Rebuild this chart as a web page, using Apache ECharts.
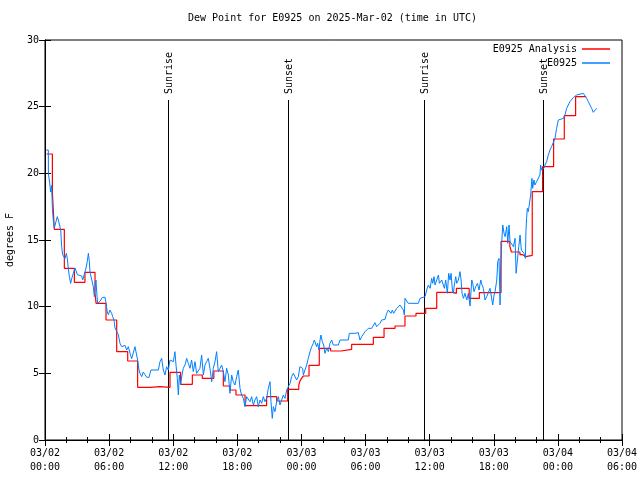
<!DOCTYPE html>
<html>
<head>
<meta charset="utf-8">
<script src="https://cdn.jsdelivr.net/npm/echarts@6/dist/echarts.min.js"></script>
<style>
html,body{margin:0;padding:0;background:#fff;}
#chart{width:640px;height:480px;}
</style>
</head>
<body>
<div id="chart"></div>
<script>
// ---- Data (hours since 2025-03-02 00:00 UTC, dew point in degrees F) ----
const titleText = 'Dew Point for E0925 on 2025-Mar-02 (time in UTC)';
const yAxisName = 'degrees F';
const seriesNames = ['E0925 Analysis', 'E0925'];
const xTickLabels = ['03/02\n00:00','03/02\n06:00','03/02\n12:00','03/02\n18:00','03/03\n00:00','03/03\n06:00','03/03\n12:00','03/03\n18:00','03/04\n00:00','03/04\n06:00'];

// Analysis (step) values: [hour, value]
const analysisPoints = [
 [0.15,21.45],[0.69,18.6],[0.87,15.8],[1.81,12.875],[2.75,11.825],[3.74,12.575],[4.68,11.0],[4.78,10.25],
 [5.71,9.0],[6.71,6.625],[7.74,5.925],[8.67,3.95],[9.83,4.0],[10.76,3.95],[11.7,5.075],[12.69,4.175],
 [13.79,4.875],[14.72,4.625],[15.8,5.175],[16.69,4.05],[17.31,3.75],[17.87,3.375],[18.72,2.575],[20.74,3.25],
 [21.68,2.925],[22.71,3.8],[23.75,4.1],[23.85,4.4],[24.0,4.62],[24.18,4.8],[24.71,5.6],[25.67,6.875],
 [26.73,6.675],[27.7,6.8],[28.7,7.175],[30.73,7.7],[31.73,8.375],[32.76,8.55],[33.69,9.3],[34.72,9.5],
 [35.63,9.875],[36.66,11.07],[38.2,11.0],[38.5,11.37],[39.7,10.62],[40.65,11.05],[42.68,14.9],[43.5,14.55],
 [43.65,14.1],[44.45,13.9],[44.7,13.75],[45.0,13.85],[45.6,18.625],[46.57,20.5],[47.6,22.575],[48.6,24.325],
 [49.66,25.75],[50.65,25.75]
];

// Observations: [hour, value]
const obsPoints = [
 [0.1,21.75],[0.31,21.75],[0.32,20.0],[0.44,19.25],[0.53,18.6],[0.62,19.1],[0.69,17.4],[0.78,16.4],
 [0.87,15.9],[1.03,15.75],[1.15,16.75],[1.25,16.5],[1.4,16.4],[1.47,15.75],[1.56,14.5],[1.65,13.9],
 [1.78,14.0],[1.87,13.6],[2.0,14.0],[2.09,13.6],[2.18,12.9],[2.28,12.25],[2.4,11.75],[2.5,12.1],
 [2.65,12.5],[2.81,12.9],[2.9,12.75],[3.03,12.4],[3.43,12.3],[3.53,12.0],[3.68,12.1],[3.74,12.6],
 [3.84,12.9],[3.96,13.4],[4.06,14.0],[4.15,13.4],[4.21,12.6],[4.37,12.5],[4.52,11.5],[4.62,10.75],
 [4.68,11.5],[4.77,12.0],[4.87,10.75],[4.93,10.25],[5.15,10.4],[5.37,10.7],[5.62,10.7],[5.71,10.25],
 [5.83,9.6],[5.93,9.4],[6.08,9.75],[6.24,9.5],[6.33,9.25],[6.46,9.0],[6.55,8.4],[6.71,8.25],
 [6.86,7.9],[7.02,7.25],[7.18,7.0],[7.33,6.9],[7.49,7.1],[7.64,6.75],[7.8,7.0],[7.96,6.5],
 [8.11,6.1],[8.27,6.25],[8.42,7.0],[8.58,6.9],[8.67,6.0],[8.8,5.25],[8.89,5.0],[9.05,4.75],
 [9.2,5.1],[9.36,4.9],[9.52,4.7],[9.73,4.7],[9.92,5.25],[10.61,5.25],[10.76,5.875],[10.92,6.125],
 [11.07,5.25],[11.23,4.875],[11.38,5.5],[11.54,5.25],[11.7,6.0],[11.85,6.075],[12.01,5.875],[12.16,6.625],
 [12.26,5.625],[12.38,4.625],[12.48,3.375],[12.57,4.875],[12.69,4.125],[12.82,4.875],[12.94,5.375],[13.1,5.625],
 [13.26,6.125],[13.41,5.75],[13.57,5.375],[13.72,6.0],[13.88,5.125],[14.04,5.875],[14.19,5.0],[14.35,5.125],
 [14.5,5.375],[14.66,6.375],[14.82,4.875],[14.97,5.625],[15.13,5.875],[15.28,6.125],[15.44,5.375],[15.6,4.375],
 [15.75,5.375],[15.91,5.875],[16.06,6.625],[16.22,5.125],[16.38,5.375],[16.53,5.625],[16.69,5.125],[16.84,4.375],
 [17.0,5.375],[17.16,4.875],[17.31,3.5],[17.47,4.875],[17.62,4.375],[17.78,4.125],[17.94,4.75],[18.09,5.25],
 [18.25,3.875],[18.4,3.375],[18.56,3.125],[18.72,2.5],[18.87,3.25],[19.03,3.25],[19.18,2.875],[19.34,3.25],
 [19.5,2.625],[19.65,3.0],[19.81,3.25],[19.96,2.5],[20.12,3.0],[20.28,2.75],[20.43,3.25],[20.59,2.875],
 [20.74,3.125],[20.9,3.875],[21.06,4.375],[21.15,2.875],[21.27,1.625],[21.37,2.5],[21.52,2.125],[21.68,2.875],
 [21.84,3.25],[21.99,2.625],[22.15,3.0],[22.3,3.375],[22.46,3.125],[22.62,3.75],[22.77,3.875],[22.93,4.25],
 [23.08,4.75],[23.24,5.0],[23.4,5.0],[23.55,4.5],[23.71,4.75],[23.86,5.5],[24.02,5.625],[24.11,5.375],
 [24.18,4.875],[24.33,5.25],[24.49,5.625],[24.64,6.125],[24.8,6.625],[24.96,7.0],[25.11,7.25],[25.21,7.5],
 [25.33,7.375],[25.42,7.0],[25.52,7.25],[25.64,6.75],[25.74,7.5],[25.83,7.875],[25.95,7.375],[26.08,7.125],
 [26.2,6.5],[26.36,6.875],[26.52,6.625],[26.67,7.25],[26.83,7.5],[26.98,7.125],[27.14,7.125],[27.45,7.125],
 [27.61,7.5],[28.39,7.5],[28.48,8.0],[29.01,8.0],[29.17,7.875],[29.32,8.05],[29.48,7.5],[29.64,7.75],
 [29.79,7.875],[29.95,8.125],[30.1,8.05],[30.26,8.375],[30.57,8.375],[30.73,8.5],[30.88,8.8],[31.04,8.5],
 [31.2,8.375],[31.35,8.75],[31.51,9.0],[31.82,9.05],[31.98,9.5],[32.13,9.75],[32.29,9.875],[32.38,9.5],
 [32.51,9.75],[32.63,9.5],[32.76,9.625],[32.91,9.875],[33.07,9.75],[33.22,10.125],[33.38,10.25],[33.54,9.75],
 [33.63,9.375],[33.69,10.625],[33.85,10.625],[34.0,10.25],[34.94,10.25],[35.1,10.625],[35.57,10.75],[35.72,11.25],
 [35.88,11.625],[36.04,11.375],[36.19,12.125],[36.29,11.75],[36.41,12.25],[36.5,11.625],[36.66,12.0],[36.82,12.375],
 [36.91,11.75],[37.03,11.875],[37.13,12.0],[37.28,11.875],[37.38,11.375],[37.5,12.0],[37.66,11.0],[37.78,12.5],
 [37.91,12.0],[38.0,12.5],[38.13,11.25],[38.22,11.0],[38.31,11.625],[38.44,12.25],[38.53,11.75],[38.69,12.0],
 [38.84,12.625],[38.94,12.0],[39.03,11.0],[39.16,10.625],[39.31,11.0],[39.47,10.5],[39.62,11.0],[39.78,10.05],
 [39.94,12.0],[40.03,11.75],[40.15,11.125],[40.31,11.5],[40.47,11.75],[40.62,11.25],[40.78,12.0],[40.9,11.625],
 [41.03,11.375],[41.18,10.5],[41.34,10.75],[41.5,10.875],[41.65,11.375],[41.81,11.25],[41.9,10.125],[42.03,10.875],
 [42.12,11.125],[42.28,12.0],[42.37,13.375],[42.49,13.625],[42.59,10.125],[42.65,13.0],[42.74,14.75],[42.84,16.125],
 [42.96,15.5],[43.06,15.25],[43.21,16.0],[43.31,14.75],[43.43,16.125],[43.52,14.875],[43.68,15.0],[43.84,14.5],
 [43.99,15.125],[44.09,12.5],[44.21,13.5],[44.34,14.5],[44.46,15.375],[44.58,14.25],[44.68,14.125],[44.83,14.0],
 [44.96,13.625],[45.01,15.625],[45.07,16.625],[45.14,17.375],[45.23,17.125],[45.32,17.625],[45.45,18.375],[45.57,19.625],
 [45.64,18.875],[45.76,19.5],[45.85,19.125],[46.01,19.375],[46.17,19.375],[46.32,19.875],[46.38,20.625],[46.48,20.25],
 [46.57,20.125],[46.7,20.375],[46.79,20.625],[46.95,20.875],[47.1,21.375],[47.26,21.75],[47.41,22.0],[47.57,22.125],
 [47.73,22.625],[47.88,23.375],[48.04,24.0],[48.51,24.125],[48.66,24.375],[48.82,24.875],[48.97,25.0],[49.13,25.375],
 [49.29,25.5],[49.44,25.675],[49.6,25.75],[49.75,25.875],[49.91,26.0],[50.38,26.0],[50.53,25.875],[50.69,25.625],
 [50.85,25.375],[51.0,25.125],[51.16,24.875],[51.31,24.575],[51.47,24.575],[51.63,24.875]
];

// Sunrise / sunset events (hours)
const eventHours = [11.54, 22.77, 35.5, 46.64];
const eventLabels = ['Sunrise', 'Sunset', 'Sunrise', 'Sunset'];

// ---- Chart ----
const FONT = '"DejaVu Sans Mono", monospace';
const chart = echarts.init(document.getElementById('chart'), null, {renderer: 'canvas'});

const axisCommon = {
  axisLine: {show: true, lineStyle: {color: '#000', width: 1}},
  splitLine: {show: false}
};

chart.setOption({
  animation: false,
  backgroundColor: '#fff',
  title: {
    text: titleText, left: 188, top: 13, padding: 0,
    textStyle: {fontFamily: FONT, fontSize: 10, fontWeight: 'normal', color: '#000'}
  },
  legend: {
    orient: 'vertical', right: 30, top: 43, align: 'right', padding: 0,
    itemWidth: 28, itemHeight: 1.5, itemGap: 2, icon: 'rect',
    textStyle: {fontFamily: FONT, fontSize: 10, color: '#000', lineHeight: 12},
    data: seriesNames
  },
  grid: {left: 45, right: 18, top: 40, bottom: 40, show: true, borderColor: '#000', borderWidth: 1,
         containLabel: false, outerBoundsMode: 'none'},
  xAxis: [
    Object.assign({
      type: 'value', min: 0, max: 54, interval: 6, position: 'bottom',
      axisTick: {show: true, inside: true, length: 6, lineStyle: {color: '#000'}},
      minorTick: {show: true, splitNumber: 3, length: 3, lineStyle: {color: '#000'}},
      axisLabel: {
        show: true, margin: 6, color: '#000', fontFamily: FONT, fontSize: 10, lineHeight: 14,
        showMinLabel: true, showMaxLabel: true,
        formatter: v => xTickLabels[Math.round(v / 6)]
      }
    }, axisCommon),
    Object.assign({
      type: 'value', min: 0, max: 54, interval: 6, position: 'top',
      axisTick: {show: true, inside: true, length: 6, lineStyle: {color: '#000'}},
      minorTick: {show: true, splitNumber: 3, length: 3, lineStyle: {color: '#000'}},
      axisLabel: {show: false}
    }, axisCommon)
  ],
  yAxis: [
    Object.assign({
      type: 'value', min: 0, max: 30, interval: 5, position: 'left',
      name: yAxisName, nameLocation: 'middle', nameGap: 30, nameRotate: 90,
      nameTextStyle: {fontFamily: FONT, fontSize: 10, color: '#000'},
      axisTick: {show: true, inside: true, length: 6, lineStyle: {color: '#000'}},
      axisLabel: {show: true, margin: 6, color: '#000', fontFamily: FONT, fontSize: 10}
    }, axisCommon),
    Object.assign({
      type: 'value', min: 0, max: 30, interval: 5, position: 'right',
      axisTick: {show: true, inside: true, length: 6, lineStyle: {color: '#000'}},
      axisLabel: {show: false}
    }, axisCommon)
  ],
  series: [
    {
      type: 'custom', name: 'events', xAxisIndex: 0, yAxisIndex: 0, silent: true,
      data: eventHours.map((h, i) => [h, i]),
      encode: {x: 0},
      renderItem: function (params, api) {
        const h = api.value(0);
        const idx = api.value(1);
        const top = api.coord([h, 25.5]);
        const bot = api.coord([h, 0]);
        const x = Math.round(top[0]) + 0.5;
        return {
          type: 'group',
          children: [
            {type: 'line', shape: {x1: x, y1: top[1], x2: x, y2: bot[1]}, style: {stroke: '#000', lineWidth: 1}},
            {type: 'text', x: x + 1, y: top[1] - 6, rotation: Math.PI / 2,
             style: {text: eventLabels[idx], fill: '#000', font: '10px ' + FONT, align: 'left', verticalAlign: 'middle'}}
          ]
        };
      }
    },
    {
      name: seriesNames[0], type: 'line', step: 'end', data: analysisPoints,
      showSymbol: false, symbol: 'none', color: '#ff0000',
      lineStyle: {color: '#ff0000', width: 1.2}
    },
    {
      name: seriesNames[1], type: 'line', data: obsPoints,
      showSymbol: false, symbol: 'none', color: '#0080ff',
      lineStyle: {color: '#0080ff', width: 1}
    }
  ]
});
</script>
</body>
</html>
